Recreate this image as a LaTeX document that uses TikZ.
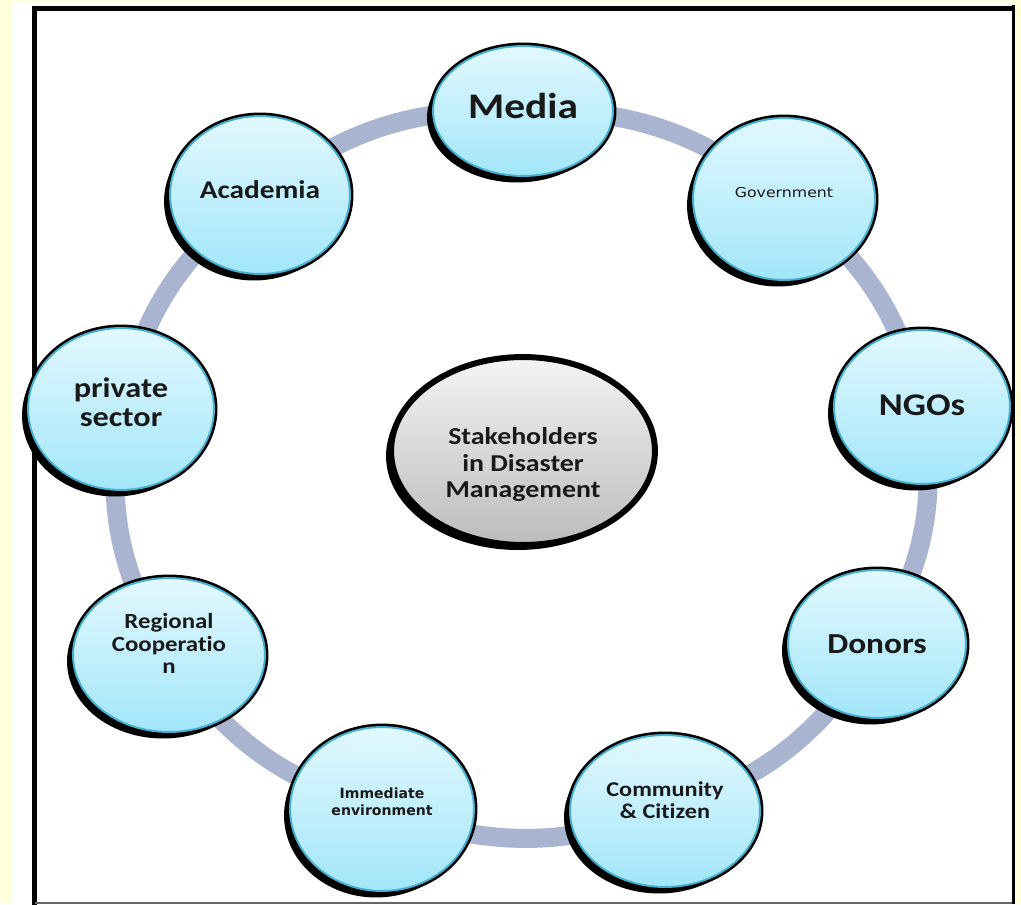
\documentclass[tikz,border=0pt]{standalone}
\usepackage{fontspec}
\setmainfont{Carlito}[Ligatures=NoCommon]
\newfontfamily\dvs{DejaVu Sans}
\usepackage{graphicx}
\usetikzlibrary{shapes.geometric,shadows}
\pgfdeclarelayer{background}
\pgfsetlayers{background,main}
\newcommand\hs[1]{\scalebox{1.15}[1]{#1}}
\newcommand\lines[2]{\raisebox{#1}[0pt][0pt]{\begin{tabular}{@{}c@{}}#2\end{tabular}}}
\definecolor{bgyellow}{RGB}{255,255,217}
\definecolor{ringcol}{RGB}{168,180,208}
\definecolor{rimcol}{RGB}{70,175,205}
\definecolor{topblue}{RGB}{226,248,254}
\definecolor{botblue}{RGB}{162,230,250}
\definecolor{txtcol}{RGB}{25,25,25}
\definecolor{topgray}{RGB}{244,244,244}
\definecolor{botgray}{RGB}{188,188,188}
\begin{document}
\begin{tikzpicture}[x=0.02cm,y=-0.02cm,
  hub/.style 2 args={ellipse, inner sep=0pt, minimum width=#1*0.04cm,
     minimum height=#2*0.04cm, align=center, text=txtcol},
  blob/.style 2 args={hub={#1}{#2}, top color=topblue, bottom color=botblue,
     general shadow={fill=black, shadow xshift=-0.12cm, shadow yshift=-0.13cm},
     preaction={draw=black, line width=4pt},
     draw=rimcol, line width=1.1pt},
  core/.style 2 args={hub={#1}{#2}, top color=topgray, bottom color=botgray,
     general shadow={fill=black, shadow xshift=-0.1cm, shadow yshift=-0.1cm},
     draw=black, line width=3.4pt},
  ringline/.style={draw=ringcol, line width=0.38cm}
]
\useasboundingbox (0,0) rectangle (1021,904);
% nodes
\node[core={132}{94}, font=\fontsize{13.8}{15.2}\selectfont\bfseries] (hubnode) at (523,451)
  {\lines{-12pt}{\hs{Stakeholders}\\\hs{in Disaster}\\\hs{Management}}};
\node[blob={90}{65}, font=\fontsize{20.5}{22}\selectfont\bfseries] (media) at (523,111)
  {\lines{-5pt}{\hs{Media}}};
\node[blob={91}{81}, font=\fontsize{7.8}{9}\selectfont\dvs] (gov) at (784,199)
  {\lines{0.9pt}{\hs{Government}}};
\node[blob={88}{77}, font=\fontsize{18}{19}\selectfont\bfseries] (ngo) at (922,407)
  {\lines{-5.3pt}{\hs{NGOs}}};
\node[blob={89}{74}, font=\fontsize{16.5}{18}\selectfont\bfseries] (donors) at (877,644)
  {\lines{-6.3pt}{\hs{Donors}}};
\node[blob={95}{76}, font=\fontsize{12}{12.4}\selectfont\bfseries] (comm) at (665,811)
  {\lines{1.5pt}{\hs{Community}\\\hs{\& Citizen}}};
\node[blob={92}{82}, font=\fontsize{8}{10}\selectfont\dvs\bfseries] (immed) at (382,809)
  {\lines{1.2pt}{Immediate\\environment}};
\node[blob={96}{77}, font=\fontsize{12.3}{13}\selectfont\bfseries] (region) at (169,655)
  {\lines{1.8pt}{\hs{Regional}\\\hs{Cooperatio}\\\hs{n}}};
\node[blob={93}{81}, font=\fontsize{16}{16.7}\selectfont\bfseries] (priv) at (121,409)
  {\lines{-2.8pt}{\hs{private}\\\hs{sector}}};
\node[blob={90}{79}, font=\fontsize{14.5}{16}\selectfont\bfseries] (acad) at (260,195)
  {\lines{-2.5pt}{\hs{Academia}}};
% background
\begin{pgfonlayer}{background}
  \fill[bgyellow] (0,0) rectangle (1021,904);
  \fill[white] (11,2) rectangle (1012,904);
  \draw[line width=0.1cm, line cap=rect] (34.5,904) -- (34.5,8) -- (1013,8);
  \draw[black!60, line width=0.04cm] (34.5,902.5) -- (1013,902.5);
  \draw[ringline] (media.center) to[bend left=20] (gov.center)
    to[bend left=20] (ngo.center) to[bend left=20] (donors.center)
    to[bend left=20] (comm.center) to[bend left=20] (immed.center)
    to[bend left=20] (region.center) to[bend left=20] (priv.center)
    to[bend left=20] (acad.center) to[bend left=20] (media.center);
\end{pgfonlayer}
% right edge over the clipped circle
\fill[bgyellow] (1015,0) rectangle (1021,904);
\draw[line width=0.06cm] (1013.5,5) -- (1013.5,904);
\end{tikzpicture}
\end{document}
